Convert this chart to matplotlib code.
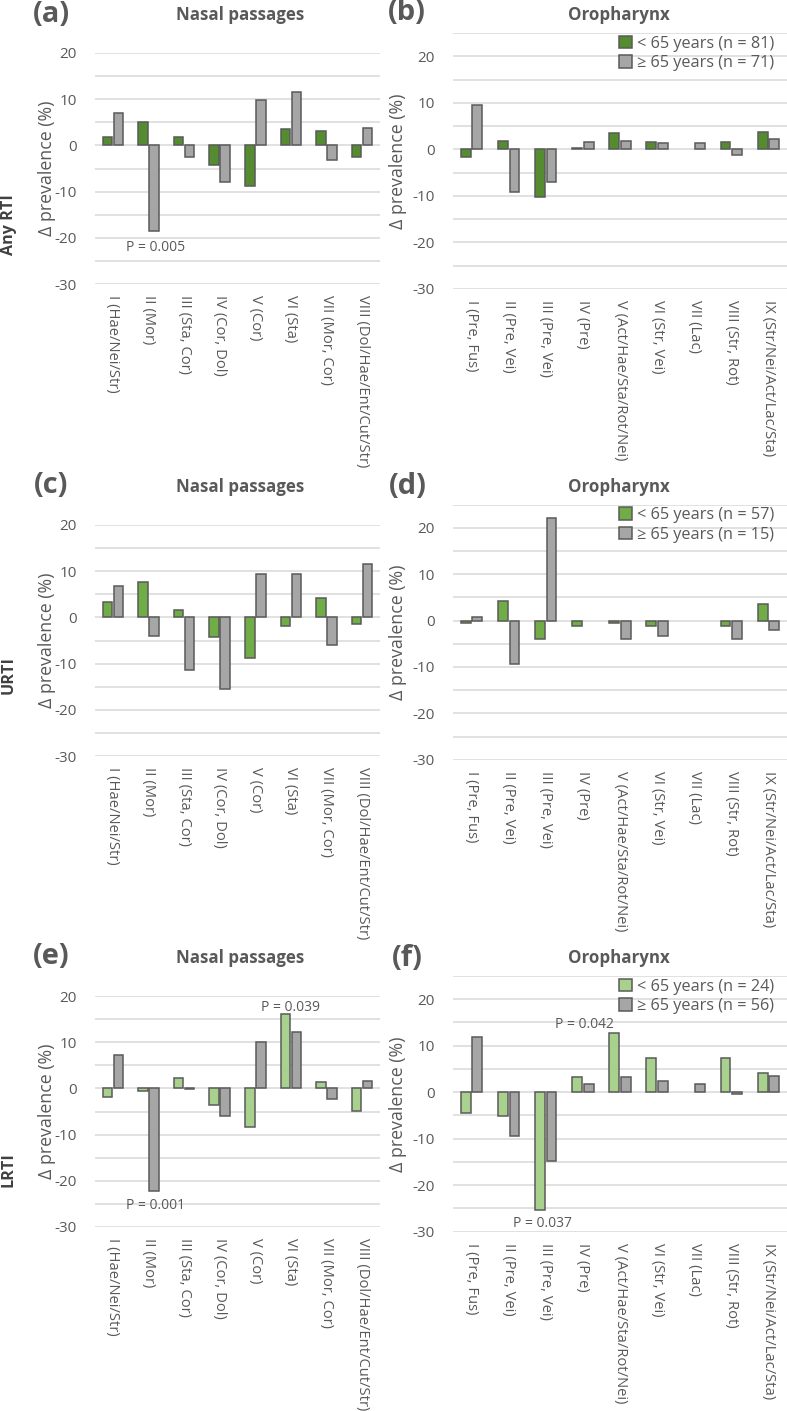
import matplotlib
matplotlib.use('Agg')
import matplotlib.pyplot as plt
from matplotlib.patches import Patch
import numpy as np

plt.rcParams['font.family'] = ['Open Sans', 'DejaVu Sans']

# ---------------- data ----------------
nasal_labels = ["I (Hae/Nei/Str)", "II (Mor)", "III (Sta, Cor)", "IV (Cor, Dol)",
                "V (Cor)", "VI (Sta)", "VII (Mor, Cor)", "VIII (Dol/Hae/Ent/Cut/Str)"]
oro_labels = ["I (Pre, Fus)", "II (Pre, Vei)", "III (Pre, Vei)", "IV (Pre)",
              "V (Act/Hae/Sta/Rot/Nei)", "VI (Str, Vei)", "VII (Lac)",
              "VIII (Str, Rot)", "IX (Str/Nei/Act/Lac/Sta)"]

a_young = [1.8, 5.0, 1.8, -4.2, -8.7, 3.5, 3.2, -2.5]
a_old = [7.1, -18.5, -2.6, -8.0, 9.9, 11.6, -3.2, 3.7]

b_young = [-1.6, 1.7, -10.2, 0.3, 3.6, 1.6, 0.0, 1.6, 3.8]
b_old = [9.6, -9.2, -7.0, 1.5, 1.7, 1.4, 1.4, -1.2, 2.3]

c_young = [3.4, 7.6, 1.7, -4.3, -8.8, -1.8, 4.2, -1.4]
c_old = [6.8, -4.0, -11.4, -15.4, 9.5, 9.5, -6.0, 11.5]

d_young = [-0.6, 4.3, -4.0, -1.2, -0.5, -1.1, 0.0, -1.1, 3.5]
d_old = [0.7, -9.4, 22.0, 0.0, -4.0, -3.4, 0.0, -4.0, -2.1]

e_young = [-1.9, -0.6, 2.3, -3.6, -8.3, 16.2, 1.3, -4.8]
e_old = [7.2, -22.3, -0.2, -5.9, 10.0, 12.1, -2.4, 1.7]

f_young = [-4.5, -5.2, -25.3, 3.2, 12.7, 7.4, 0.0, 7.4, 4.2]
f_old = [11.9, -9.4, -14.8, 1.8, 3.2, 2.5, 1.8, -0.4, 3.5]

legend_b = ["< 65 years (n = 81)", "\u2265 65 years (n = 71)"]
legend_d = ["< 65 years (n = 57)", "\u2265 65 years (n = 15)"]
legend_f = ["< 65 years (n = 24)", "\u2265 65 years (n = 56)"]

# p-value annotations: (text, x, y)
p_a = [("P = 0.005", 1.21, -22.1)]
p_e = [("P = 0.039", 5.0, 17.6), ("P = 0.001", 1.21, -25.3)]
p_f = [("P = 0.042", 3.04, 14.5), ("P = 0.037", 1.9, -28.2)]

# ---------------- style ----------------
W, H = 787, 1411
TXT = '#595959'
GRID = '#d9d9d9'
EDGE = '#5a5a5a'
GREY = '#a6a6a6'
GREEN_DARK = '#548c2f'
GREEN_MID = '#70ad47'
GREEN_LIGHT = '#a9d18e'

fig = plt.figure(figsize=(W / 100, H / 100), dpi=100)
fig.patch.set_facecolor('white')


def ax_at(l, t, r, b):
    return fig.add_axes([l / W, 1 - b / H, (r - l) / W, (b - t) / H])


def panel(ax, labels, young, old, ytop, green, pvals, legend_labels=None):
    n = len(labels)
    x = np.arange(n)
    w = 0.265
    off = 0.155
    yv = np.array(young, dtype=float)
    ov = np.array(old, dtype=float)
    yv[yv == 0] = np.nan
    ov[ov == 0] = np.nan
    ax.bar(x - off, yv, w, color=green, edgecolor=EDGE, linewidth=1.1, zorder=3)
    ax.bar(x + off, ov, w, color=GREY, edgecolor=EDGE, linewidth=1.1, zorder=3)
    ax.set_xlim(-0.5, n - 0.5)
    ax.set_ylim(-30, ytop)
    for v in range(-30, ytop + 1, 5):
        ax.axhline(v, color=GRID, lw=1.1, zorder=0)
    for s in ax.spines.values():
        s.set_visible(False)
    ax.set_yticks(list(range(-30, 21, 10)))
    ax.set_yticklabels([str(v) for v in range(-30, 21, 10)])
    ax.tick_params(axis='y', length=0, pad=13, labelsize=11, labelcolor=TXT)
    ax.set_xticks(x)
    ax.set_xticklabels(labels, rotation=-90, fontsize=10.6, color=TXT,
                       va='top', ha='center')
    ax.tick_params(axis='x', length=0, pad=8)
    for txt, px, py in pvals:
        ax.text(px, py, txt, ha='center', va='center', fontsize=10, color=TXT, zorder=4)
    if legend_labels is not None:
        handles = [Patch(facecolor=green, edgecolor=EDGE, linewidth=1.1),
                   Patch(facecolor=GREY, edgecolor=EDGE, linewidth=1.1)]
        leg = ax.legend(handles, legend_labels, loc='upper right',
                        bbox_to_anchor=(0.962, 0.99), frameon=False, fontsize=11.7,
                        handlelength=0.8, handleheight=0.8, handletextpad=0.3,
                        labelspacing=0.22, borderaxespad=0, borderpad=0)
        for t in leg.get_texts():
            t.set_color(TXT)


specs = [
    # (l, t, r, b, labels, young, old, ytop, green, pvals, legend, letter, title)
    (95, 53, 380, 284, nasal_labels, a_young, a_old, 20, GREEN_DARK, p_a, None, '(a)', 'Nasal passages'),
    (453, 33, 787, 289, oro_labels, b_young, b_old, 25, GREEN_DARK, [], legend_b, '(b)', 'Oropharynx'),
    (95, 525, 380, 756, nasal_labels, c_young, c_old, 20, GREEN_MID, [], None, '(c)', 'Nasal passages'),
    (453, 504.5, 787, 759.7, oro_labels, d_young, d_old, 25, GREEN_MID, [], legend_d, '(d)', 'Oropharynx'),
    (95, 996, 380, 1227, nasal_labels, e_young, e_old, 20, GREEN_LIGHT, p_e, None, '(e)', 'Nasal passages'),
    (453, 976, 787, 1231.7, oro_labels, f_young, f_old, 25, GREEN_LIGHT, p_f, legend_f, '(f)', 'Oropharynx'),
]

letter_pos = [(51, 14), (407, 12), (51, 485), (408, 487), (51, 957), (407, 958)]
title_pos = [(240, 15), (619, 15), (240, 487), (619, 487), (240, 958), (619, 958)]

for i, (l, t, r, b, labels, yg, og, ytop, green, pv, leg, letter, title) in enumerate(specs):
    ax = ax_at(l, t, r, b)
    panel(ax, labels, yg, og, ytop, green, pv, leg)
    lx, ly = letter_pos[i]
    fig.text(lx / W, 1 - ly / H, letter, fontsize=21, fontweight='bold', color=TXT,
             ha='center', va='center')
    tx, ty = title_pos[i]
    fig.text(tx / W, 1 - ty / H, title, fontsize=12.2, fontweight='bold', color=TXT,
             ha='center', va='center')
    ylx = 47 if l < 200 else 398
    fig.text(ylx / W, 1 - ((t + b) / 2) / H, '\u0394 prevalence (%)', rotation=90,
             fontsize=12.8, color=TXT, ha='center', va='center')

row_labels = [("Any RTI", 225), ("URTI", 675), ("LRTI", 1170)]
for txt, yy in row_labels:
    fig.text(9 / W, 1 - yy / H, txt, rotation=90, fontsize=11.6, fontweight='bold',
             color='#404040', ha='center', va='center')

fig.savefig('out.png', dpi=100, facecolor='white')
